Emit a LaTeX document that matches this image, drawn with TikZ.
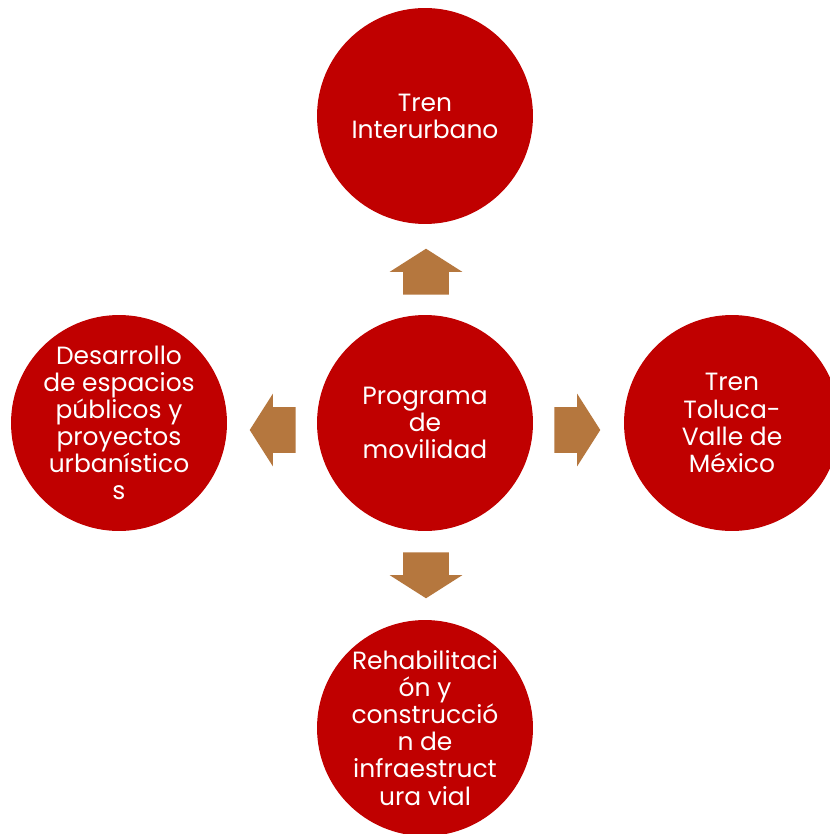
\documentclass[tikz,border=0pt]{standalone}
\usepackage{fontspec}
\setmainfont{Poppins}
\usetikzlibrary{shapes.arrows,positioning}
\definecolor{circred}{RGB}{192,0,0}
\definecolor{arrowbrown}{RGB}{181,119,62}
\tikzset{
    topic/.style={circle, fill=circred, draw=none, minimum size=4.32cm, inner sep=0pt,
        text=white, align=center, font=\fontsize{14.2}{15.4}\selectfont},
    blockarrow/.style={single arrow, fill=arrowbrown, draw=none, inner xsep=0pt, inner ysep=0.45cm,
        minimum height=0.92cm, single arrow head extend=0.27cm, single arrow tip angle=115}
}

\begin{document}
\begin{tikzpicture}[x=0.02cm, y=-0.02cm]
\useasboundingbox (0,0) rectangle (830,834);
\node[topic] (P) at (425,423) {Programa\\de\\movilidad};
\node[topic] (T) at (425,116) {Tren\\Interurbano};
\node[topic] (D) at (119,423) {Desarrollo\\de espacios\\públicos y\\proyectos\\urbanístico\\s};
\node[topic] (V) at (732,423) {Tren\\Toluca-\\Valle de\\México};
\node[topic] (R) at (425,728) {Rehabilitaci\\ón y\\construcció\\n de\\infraestruct\\ura vial};

% arrows out of the centre
\node[blockarrow, rotate=90] (aT) at (426,279) {};
\node[blockarrow, rotate=180] (aD) at (280,430) {};
\node[blockarrow] (aV) at (570,430) {};
\node[blockarrow, rotate=-90] (aR) at (426,568) {};
\end{tikzpicture}
\end{document}
